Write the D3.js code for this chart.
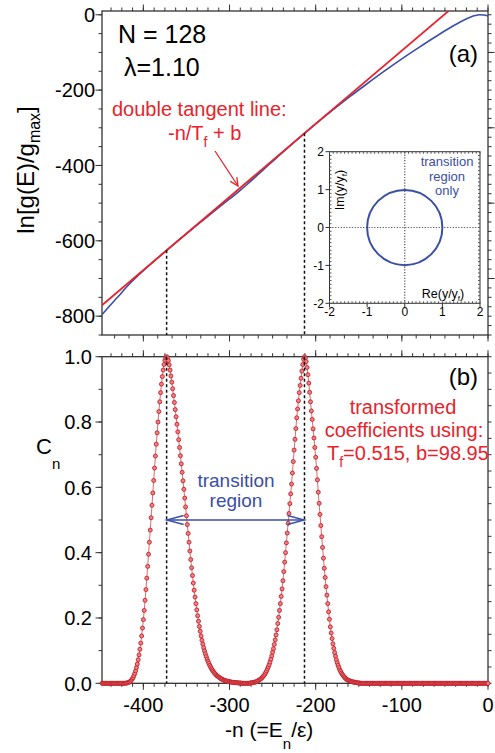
<!DOCTYPE html>
<html><head><meta charset="utf-8">
<script src="https://cdn.jsdelivr.net/npm/d3@7/dist/d3.min.js"></script>
<style>
body{margin:0;background:#fff}
text{font-family:"Liberation Sans",Arial,Helvetica,sans-serif}
</style>
</head><body>
<svg id="c" width="495" height="753"></svg>
<script>
// ---------------- DATA ----------------
const blueX = [-448,-440,-430,-420,-410,-400,-390,-373,-360,-340,-320,-300,-290,-280,-260,-240,-213,-200,-180,-160,-140,-120,-100,-80,-60,-44,-30,-20,-15,-10,-5,0];
const blueY = [-796,-775,-750,-724,-700.7,-679.3,-658.9,-625.3,-600.4,-562.5,-525.5,-488.9,-470.7,-451.2,-409.7,-368.4,-314.6,-289.8,-252.7,-216.8,-182.4,-149,-117,-86.5,-57,-34.5,-16.5,-6,-2.2,0,-0.8,-3.5];
// Double tangent line  -n/T_f + b  (end points)
const redX = [-448, 0];
const redY = [-770.9, 98.95];
// Tangent points (dashed guides)
const tangentX = [-373, -213];
const tangentY = [-625.3, -314.6];

// Panel (b): transformed coefficients C_n at every integer n (-448..0); zero outside the two peaks
const cnRange = [-448, 0];
const cnLeftStart = -420;
const cnLeftPeak = [
 .0005,.001,.002,.003,.004,.006,.009,.013,.017,.023,.030,.038,.048,.059,.072,.087,.104,.123,.145,.169,
 .195,.223,.254,.287,.322,.358,.395,.432,.469,.507,.545,.583,.621,.659,.696,.732,.767,.800,.832,.862,
 .890,.916,.939,.959,.976,.989,.997,1.000,
 .997,.988,.975,.959,.941,.922,.902,.881,.860,.838,.816,.793,.770,.746,.722,.697,.672,.646,.620,.594,
 .567,.540,.513,.486,.459,.432,.405,.379,.354,.330,.307,.285,.264,.244,.225,.207,.190,.174,.159,.145,
 .132,.120,.109,.099,.090,.082,.074,.067,.061,.055,.050,.045,.041,.037,.033,.030,.027,.024,.022,.020,
 .018,.016,.014,.013,.012,.010,.009,.008,.007,.007,.006,.005,.005,.004,.004,.003,.003,.003,.002,.002,
 .002,.002,.001,.001,.001,.001];
const cnRightStart = -276;
const cnRightPeak = [
 .001,.001,.002,.002,.003,.003,.004,.005,.006,.008,.009,.011,.013,.015,.018,.021,.024,.028,.033,.038,
 .044,.050,.057,.065,.074,.084,.095,.106,.119,.133,.148,.164,.183,.202,.223,.244,.266,.289,.314,.342,
 .371,.400,.430,.460,.490,.520,.550,.580,.610,.644,.679,.714,.747,.780,.813,.840,.865,.890,.912,.934,
 .956,.976,.992,1.000,
 .996,.985,.967,.945,.919,.891,.862,.834,.808,.779,.751,.722,.692,.658,.623,.585,.551,.517,.483,.449,
 .416,.383,.352,.324,.296,.270,.244,.219,.196,.173,.154,.137,.121,.107,.094,.083,.072,.063,.055,.048,
 .041,.036,.031,.027,.023,.020,.017,.014,.012,.010,.009,.008,.007,.006,.005,.004,.004,.003,.003,.002,
 .002,.001,.001,.001];

// Inset: y/y_f in the complex plane (transition region only) -> unit circle
const insetCenter = [0, 0];
const insetRadius = 1;

// Tick labels
const xTickVals = [-400,-300,-200,-100,0];
const yTickA = [0,-200,-400,-600,-800];
const yTickB = [0,0.2,0.4,0.6,0.8,1.0];
const insetTicks = [-2,-1,0,1,2];

// ---------------- DRAW ----------------
const RED = "#e8232b", BLUE = "#3a4ea6", AX = "#333";
const svg = d3.select("#c");
const x = d3.scaleLinear().domain([-448, 0]).range([102, 488]);
const yA = d3.scaleLinear().domain([-850, 10]).range([335, 11]);
const yB = d3.scaleLinear().domain([0, 1]).range([683.3, 356.7]);

function hTicks(y0, dir, vals, len, sc, col){
  svg.append("g").selectAll("line").data(vals).join("line")
    .attr("x1", d=>sc(d)).attr("x2", d=>sc(d)).attr("y1", y0).attr("y2", y0+dir*len)
    .attr("stroke", col||AX).attr("stroke-width", 1);
}
function vTicks(x0, dir, vals, len, sc, col){
  svg.append("g").selectAll("line").data(vals).join("line")
    .attr("y1", d=>sc(d)).attr("y2", d=>sc(d)).attr("x1", x0).attr("x2", x0+dir*len)
    .attr("stroke", col||AX).attr("stroke-width", 1);
}
const xMinor125 = d3.range(0, -449, -12.5);
const xMinor167 = d3.range(0, -449, -100/6);
const xMajor = d3.range(0, -449, -100);

// clip paths
const defs = svg.append("defs");
defs.append("clipPath").attr("id","clipA").append("rect").attr("x",102).attr("y",11).attr("width",386).attr("height",324);
defs.append("clipPath").attr("id","clipB").append("rect").attr("x",100).attr("y",350).attr("width",392).attr("height",340);

// ---- Panel (a) ----
svg.append("rect").attr("x",102).attr("y",11).attr("width",386).attr("height",324)
  .attr("fill","none").attr("stroke",AX).attr("stroke-width",1.3);
hTicks(11,-1,xMinor125,3.5,x); hTicks(11,-1,xMajor,6.5,x);
hTicks(335,1,xMinor167,3.5,x); hTicks(335,1,xMajor,6.5,x);
vTicks(102,-1,d3.range(0,-851,-50),3.5,yA); vTicks(102,-1,yTickA,6.5,yA);
vTicks(488,1,d3.range(0,-851,-25),3.5,yA); vTicks(488,1,d3.range(-100,-851,-200),6.5,yA);
svg.append("g").selectAll("text").data(yTickA).join("text")
  .attr("x",95).attr("y",d=>yA(d)).attr("dy","0.36em").attr("text-anchor","end")
  .attr("font-size",20).text(d=>String(d));

const gA = svg.append("g").attr("clip-path","url(#clipA)");
gA.append("path").datum(blueX.map((v,i)=>[v,blueY[i]]))
  .attr("d", d3.line().x(d=>x(d[0])).y(d=>yA(d[1])).curve(d3.curveMonotoneX))
  .attr("fill","none").attr("stroke",BLUE).attr("stroke-width",1.6);
gA.append("path").datum(redX.map((v,i)=>[v,redY[i]]))
  .attr("d", d3.line().x(d=>x(d[0])).y(d=>yA(d[1])))
  .attr("fill","none").attr("stroke",RED).attr("stroke-width",1.8);
svg.append("g").selectAll("line").data(tangentX).join("line")
  .attr("x1",d=>x(d)).attr("x2",d=>x(d)).attr("y1",(d,i)=>yA(tangentY[i])).attr("y2",335)
  .attr("stroke","#111").attr("stroke-width",1.5).attr("stroke-dasharray","3,2.5");

// texts panel a
svg.append("text").attr("x",118).attr("y",43).attr("font-size",25).text("N = 128");
svg.append("text").attr("x",124).attr("y",76).attr("font-size",25).text("λ=1.10");
svg.append("text").attr("x",478).attr("y",62).attr("text-anchor","end").attr("font-size",24).text("(a)");
svg.append("text").attr("x",112).attr("y",116).attr("font-size",20).attr("fill",RED).text("double tangent line:");
const t1 = svg.append("text").attr("x",168).attr("y",140).attr("font-size",20).attr("fill",RED);
t1.append("tspan").text("-n/T");
t1.append("tspan").attr("dy",7).attr("font-size",14).text("f");
t1.append("tspan").attr("dy",-7).text(" + b");
// arrow
const a0=[215,151], a1=[238,186];
svg.append("line").attr("x1",a0[0]).attr("y1",a0[1]).attr("x2",a1[0]).attr("y2",a1[1]).attr("stroke",RED).attr("stroke-width",1.3);
(function(){
  const ang=Math.atan2(a1[1]-a0[1],a1[0]-a0[0]), L=9, s=0.45;
  const p1=[a1[0]-L*Math.cos(ang-s),a1[1]-L*Math.sin(ang-s)], p2=[a1[0]-L*Math.cos(ang+s),a1[1]-L*Math.sin(ang+s)];
  svg.append("path").attr("d",`M${p1}L${a1}L${p2}`).attr("fill","none").attr("stroke",RED).attr("stroke-width",1.3);
})();
// y-axis title a
const ylab = svg.append("text").attr("transform","translate(34,170) rotate(-90)").attr("text-anchor","middle").attr("font-size",24);
ylab.append("tspan").text("ln[g(E)/g");
ylab.append("tspan").attr("dy",6).attr("font-size",16).text("max");
ylab.append("tspan").attr("dy",-6).text("]");

// ---- Inset ----
const xi = d3.scaleLinear().domain([-2,2]).range([329.5,480]);
const yi = d3.scaleLinear().domain([-2,2]).range([303.3,151.7]);
svg.append("rect").attr("x",329.5).attr("y",151.7).attr("width",150.5).attr("height",151.6)
  .attr("fill","#fff").attr("stroke",AX).attr("stroke-width",1);
const iMinor = d3.range(-2,2.001,0.1);
hTicks(151.7,1,iMinor,2,xi,"#555"); hTicks(303.3,-1,iMinor,2,xi,"#555");
vTicks(329.5,1,iMinor,2,yi,"#555"); vTicks(480,-1,iMinor,2,yi,"#555");
hTicks(303.3,1,insetTicks,4,xi); vTicks(329.5,-1,insetTicks,4,yi);
svg.append("line").attr("x1",xi(0)).attr("x2",xi(0)).attr("y1",151.7).attr("y2",303.3)
  .attr("stroke","#555").attr("stroke-width",1.2).attr("stroke-dasharray","1.2,1.6");
svg.append("line").attr("y1",yi(0)).attr("y2",yi(0)).attr("x1",329.5).attr("x2",480)
  .attr("stroke","#555").attr("stroke-width",1.2).attr("stroke-dasharray","1.2,1.6");
svg.append("circle").attr("cx",xi(insetCenter[0])).attr("cy",yi(insetCenter[1]))
  .attr("r",xi(insetRadius)-xi(0)).attr("fill","none").attr("stroke",BLUE).attr("stroke-width",2);
svg.append("g").selectAll("text").data(insetTicks).join("text")
  .attr("x",324).attr("y",d=>yi(d)).attr("dy","0.36em").attr("text-anchor","end").attr("font-size",12).text(d=>String(d));
svg.append("g").selectAll("text").data(insetTicks).join("text")
  .attr("x",d=>xi(d)).attr("y",316).attr("text-anchor","middle").attr("font-size",12).text(d=>String(d));
const imL = svg.append("text").attr("transform","translate(344,190) rotate(-90)").attr("text-anchor","middle").attr("font-size",12.5);
imL.append("tspan").text("Im(y/y"); imL.append("tspan").attr("dy",3).attr("font-size",8).text("f"); imL.append("tspan").attr("dy",-3).text(")");
const reL = svg.append("text").attr("x",443).attr("y",298).attr("text-anchor","middle").attr("font-size",12.5);
reL.append("tspan").text("Re(y/y"); reL.append("tspan").attr("dy",3).attr("font-size",8).text("f"); reL.append("tspan").attr("dy",-3).text(")");
["transition","region","only"].forEach((s,i)=>{
  svg.append("text").attr("x",447).attr("y",166+i*14.5).attr("text-anchor","middle").attr("font-size",13).attr("fill",BLUE).text(s);
});

// ---- Panel (b) ----
svg.append("rect").attr("x",102).attr("y",356.7).attr("width",386).attr("height",326.6)
  .attr("fill","none").attr("stroke",AX).attr("stroke-width",1.3);
hTicks(356.7,-1,xMinor125,3.5,x); hTicks(356.7,-1,xMajor,6.5,x);
hTicks(683.3,1,xMinor125,3.5,x); hTicks(683.3,1,xMajor,6.5,x);
vTicks(102,-1,d3.range(0,1.001,0.1),3.5,yB); vTicks(102,-1,yTickB,6.5,yB);
vTicks(488,1,d3.range(0,1.001,0.05),3.5,yB);
svg.append("g").selectAll("text").data(yTickB).join("text")
  .attr("x",92).attr("y",d=>yB(d)).attr("dy","0.36em").attr("text-anchor","end")
  .attr("font-size",20).text(d=>d3.format(".1f")(d));
svg.append("g").selectAll("text").data(xTickVals).join("text")
  .attr("x",d=>x(d)).attr("y",712).attr("text-anchor","middle").attr("font-size",20).text(d=>String(d));

// build C_n series
const cn = [];
for (let n = cnRange[0]; n <= cnRange[1]; n++) {
  let v = 0;
  const iL = n - cnLeftStart, iR = n - cnRightStart;
  if (iL >= 0 && iL < cnLeftPeak.length) v = cnLeftPeak[iL];
  else if (iR >= 0 && iR < cnRightPeak.length) v = cnRightPeak[iR];
  cn.push([n, v]);
}
const gB = svg.append("g").attr("clip-path","url(#clipB)");
gB.append("path").datum(cn).attr("d", d3.line().x(d=>x(d[0])).y(d=>yB(d[1])))
  .attr("fill","none").attr("stroke","#e06a6e").attr("stroke-width",1);
gB.append("g").selectAll("circle").data(cn).join("circle")
  .attr("cx",d=>x(d[0])).attr("cy",d=>yB(d[1])).attr("r",2)
  .attr("fill","#e88488").attr("stroke","#c41f28").attr("stroke-width",0.9);
svg.append("g").selectAll("line").data(tangentX).join("line")
  .attr("x1",d=>x(d)).attr("x2",d=>x(d)).attr("y1",356.7).attr("y2",683.3)
  .attr("stroke","#111").attr("stroke-width",1.5).attr("stroke-dasharray","3,2.5");

// blue double arrow
const ay = 520, ax0 = x(tangentX[0]), ax1 = x(tangentX[1]);
svg.append("line").attr("x1",ax0).attr("x2",ax1).attr("y1",ay).attr("y2",ay).attr("stroke",BLUE).attr("stroke-width",1.3);
svg.append("path").attr("d",`M${ax0+17},${ay-4.5}L${ax0},${ay}L${ax0+17},${ay+4.5}`).attr("fill","none").attr("stroke",BLUE).attr("stroke-width",1.3);
svg.append("path").attr("d",`M${ax1-17},${ay-4.5}L${ax1},${ay}L${ax1-17},${ay+4.5}`).attr("fill","none").attr("stroke",BLUE).attr("stroke-width",1.3);
svg.append("text").attr("x",236).attr("y",487).attr("text-anchor","middle").attr("font-size",19).attr("fill",BLUE).text("transition");
svg.append("text").attr("x",236).attr("y",507).attr("text-anchor","middle").attr("font-size",19).attr("fill",BLUE).text("region");

// texts panel b
svg.append("text").attr("x",478).attr("y",385).attr("text-anchor","end").attr("font-size",24).text("(b)");
svg.append("text").attr("x",403).attr("y",414).attr("text-anchor","middle").attr("font-size",20).attr("fill",RED).text("transformed");
svg.append("text").attr("x",404).attr("y",437).attr("text-anchor","middle").attr("font-size",20).attr("fill",RED).text("coefficients using:");
const t2 = svg.append("text").attr("x",327).attr("y",460).attr("font-size",20).attr("fill",RED);
t2.append("tspan").text("T"); t2.append("tspan").attr("dy",7).attr("font-size",14).text("f");
t2.append("tspan").attr("dy",-7).text("=0.515, b=98.95");

const cl = svg.append("text").attr("x",36).attr("y",454).attr("font-size",22);
cl.append("tspan").text("C"); cl.append("tspan").attr("dy",15).attr("font-size",15).text("n");

const xl = svg.append("text").attr("x",225).attr("y",737).attr("font-size",21);
xl.append("tspan").text("-n (=E"); xl.append("tspan").attr("dy",12).attr("font-size",15).text("n");
xl.append("tspan").attr("dy",-12).text("/ε)");
</script>
</body></html>
